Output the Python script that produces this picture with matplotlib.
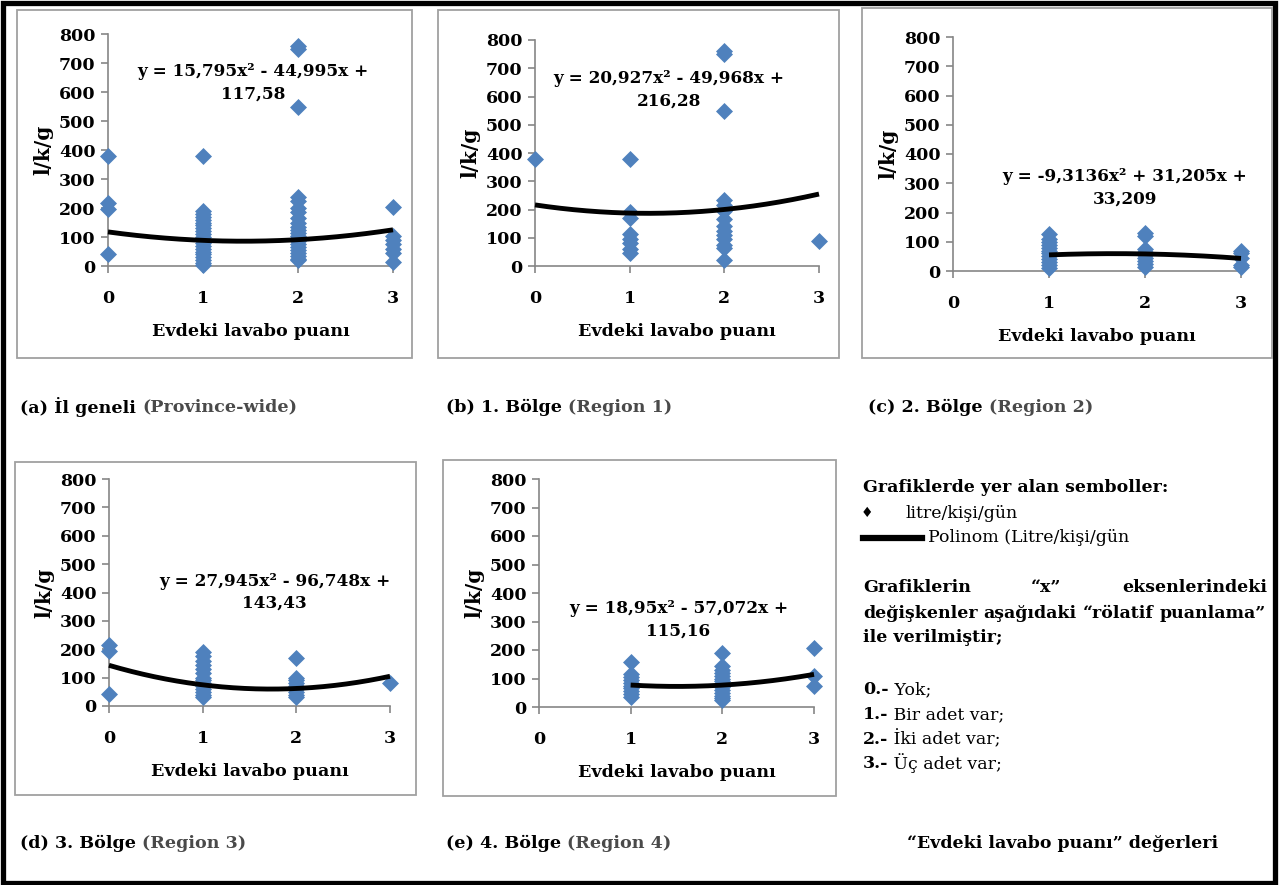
import numpy as np
import matplotlib
matplotlib.use("Agg")
import matplotlib.pyplot as plt
from matplotlib.lines import Line2D
from matplotlib.patches import Rectangle

W, H = 1279, 885
plt.rcParams['font.family'] = ['DejaVu Serif']

# ---------------- data ----------------
x_ticks = [0, 1, 2, 3]
y_ticks = [0, 100, 200, 300, 400, 500, 600, 700, 800]

a_x = [0]*4 + [1]*21 + [2]*22 + [3]*7
a_y = [380, 218, 195, 40,
       380, 190, 180, 170, 160, 150, 140, 130, 120, 110, 100, 90, 80, 70, 60, 50, 40, 30, 20, 10, 5,
       760, 750, 550, 238, 225, 200, 185, 165, 150, 135, 125, 115, 105, 95, 85, 75, 65, 55, 45, 35, 25, 20,
       205, 105, 90, 75, 60, 45, 15]
a_coef = [15.795, -44.995, 117.58]
a_range = [0, 3]

b_x = [0] + [1]*8 + [2]*14 + [3]
b_y = [380,
       380, 190, 170, 115, 95, 80, 60, 45,
       760, 750, 550, 235, 215, 195, 165, 140, 125, 110, 95, 75, 65, 20,
       90]
b_coef = [20.927, -49.968, 216.28]
b_range = [0, 3]

c_x = [1]*12 + [2]*9 + [3]*5
c_y = [125, 110, 100, 90, 80, 70, 60, 50, 40, 30, 20, 10,
       130, 120, 75, 65, 55, 45, 35, 25, 15,
       70, 60, 45, 20, 15]
c_coef = [-9.3136, 31.205, 33.209]
c_range = [1, 3]

d_x = [0]*3 + [1]*14 + [2]*9 + [3]
d_y = [215, 195, 42,
       190, 175, 160, 145, 130, 115, 100, 90, 80, 70, 60, 50, 40, 30,
       168, 100, 90, 80, 70, 60, 50, 40, 30,
       82]
d_coef = [27.945, -96.748, 143.43]
d_range = [0, 3]

e_x = [1]*10 + [2]*14 + [3]*3
e_y = [158, 115, 105, 95, 85, 75, 65, 55, 45, 35,
       190, 145, 130, 120, 110, 100, 90, 80, 70, 60, 50, 40, 30, 25,
       207, 110, 72]
e_coef = [18.95, -57.072, 115.16]
e_range = [1, 3]

equations = {
    'a': "y = 15,795x² - 44,995x +\n117,58",
    'b': "y = 20,927x² - 49,968x +\n216,28",
    'c': "y = -9,3136x² + 31,205x +\n33,209",
    'd': "y = 27,945x² - 96,748x +\n143,43",
    'e': "y = 18,95x² - 57,072x +\n115,16",
}
captions = {
    'a': ("(a) İl geneli ", "(Province-wide)"),
    'b': ("(b) 1. Bölge ", "(Region 1)"),
    'c': ("(c) 2. Bölge ", "(Region 2)"),
    'd': ("(d) 3. Bölge ", "(Region 3)"),
    'e': ("(e) 4. Bölge ", "(Region 4)"),
}
x_label = "Evdeki lavabo puanı"
y_label = "l/k/g"

# ---------------- layout (pixels) ----------------
panels = {
    'a': dict(x=a_x, y=a_y, coef=a_coef, rng=a_range, ax=(108, 393, 34, 266), frame=(17, 412, 10, 358), eq=(1.53, 631), cap=(20, 407)),
    'b': dict(x=b_x, y=b_y, coef=b_coef, rng=b_range, ax=(535, 819, 40, 266), frame=(438, 839, 10, 358), eq=(1.415, 623), cap=(446, 407)),
    'c': dict(x=c_x, y=c_y, coef=c_coef, rng=c_range, ax=(953, 1241, 37, 271), frame=(862, 1272, 8, 358), eq=(1.79, 284), cap=(868, 407)),
    'd': dict(x=d_x, y=d_y, coef=d_coef, rng=d_range, ax=(109, 390, 479, 706), frame=(15, 416, 462, 795), eq=(1.77, 401), cap=(20, 843)),
    'e': dict(x=e_x, y=e_y, coef=e_coef, rng=e_range, ax=(539, 814, 479, 707), frame=(443, 836, 460, 796), eq=(1.52, 305), cap=(446, 843)),
}

fig = plt.figure(figsize=(W/100, H/100), dpi=100)
fig.patch.set_facecolor('white')

def fx(x): return x / W
def fy(y): return 1 - y / H

# outer black border
fig.add_artist(Rectangle((fx(2.5), fy(882.5)), fx(1274.5-2.5), 880/H, transform=fig.transFigure,
                         fill=False, edgecolor='black', linewidth=3.8))

GRAY = '#868686'
BLUE = '#4F81BD'
TICKFS = 12.5
for key, p in panels.items():
    l, r, t, b = p['frame']
    fig.add_artist(Rectangle((fx(l), fy(b)), (r-l)/W, (b-t)/H, transform=fig.transFigure,
                             fill=False, edgecolor='#A0A0A0', linewidth=1.3))
    l, r, t, b = p['ax']
    ax = fig.add_axes([fx(l), fy(b), (r-l)/W, (b-t)/H])
    ax.set_xlim(0, 3)
    ax.set_ylim(0, 800)
    ax.set_facecolor('none')
    for s in ['top', 'right']:
        ax.spines[s].set_visible(False)
    for s in ['left', 'bottom']:
        ax.spines[s].set_color(GRAY)
        ax.spines[s].set_linewidth(1.2)
    ax.set_xticks(x_ticks)
    ax.set_yticks(y_ticks)
    ax.tick_params(direction='out', length=5, width=1.2, color=GRAY, labelsize=TICKFS, pad=4)
    ax.tick_params(axis='x', pad=12)
    for lab in ax.get_xticklabels() + ax.get_yticklabels():
        lab.set_fontweight('bold')
    ax.scatter(p['x'], p['y'], marker='D', s=75, color=BLUE, linewidths=0, zorder=3, clip_on=False)
    xx = np.linspace(p['rng'][0], p['rng'][1], 200)
    ax.plot(xx, np.polyval(p['coef'], xx), color='black', linewidth=3.5, zorder=4,
            solid_capstyle='butt', clip_on=False)
    ax.text(p['eq'][0], p['eq'][1], equations[key], ha='center', va='center',
            fontsize=12.2, fontweight='bold', linespacing=1.4, zorder=5)
    ax.set_xlabel(x_label, fontsize=12.6, fontweight='bold', labelpad=12)
    ax.set_ylabel(y_label, fontsize=14.5, fontweight='bold', labelpad=4)

fig.canvas.draw()
renderer = fig.canvas.get_renderer()

CFS = 12.6
for key, p in panels.items():
    c1, c2 = captions[key]
    x0, y0 = p['cap']
    t1 = fig.text(fx(x0), fy(y0), c1, fontsize=CFS, fontweight='bold', ha='left', va='center', color='black')
    w1 = t1.get_window_extent(renderer).width
    fig.text(fx(x0 + w1), fy(y0), c2, fontsize=CFS, fontweight='bold', ha='left', va='center', color='#4A4A4A')

LFS = 12.5
fig.text(fx(863), fy(488), "Grafiklerde yer alan semboller:", fontsize=LFS, fontweight='bold', va='center')
fig.text(fx(867), fy(513), "♦", fontsize=10, va='center', ha='center', family=['DejaVu Sans'])
fig.text(fx(905), fy(513), "litre/kişi/gün", fontsize=LFS, va='center')
fig.add_artist(Line2D([fx(863), fx(922)], [fy(538), fy(538)], color='black', linewidth=4.5,
                      transform=fig.transFigure))
fig.text(fx(928), fy(538), "Polinom (Litre/kişi/gün", fontsize=LFS, va='center')

def justify(words, y, left, right, **kw):
    ts = [fig.text(0, fy(y), w, va='center', **kw) for w in words]
    widths = [t.get_window_extent(renderer).width for t in ts]
    gap = (right - left - sum(widths)) / max(len(words) - 1, 1)
    x = left
    for t, w in zip(ts, widths):
        t.set_x(fx(x))
        x += w + gap

justify(["Grafiklerin", "“x”", "eksenlerindeki"], 588, 863, 1267, fontsize=LFS, fontweight='bold')
justify(["değişkenler", "aşağıdaki", "“rölatif", "puanlama”"], 613, 863, 1266, fontsize=LFS, fontweight='bold')
fig.text(fx(863), fy(638), "ile verilmiştir;", fontsize=LFS, fontweight='bold', va='center')

items = [("0.-", " Yok;"), ("1.-", " Bir adet var;"), ("2.-", " İki adet var;"), ("3.-", " Üç adet var;")]
for i, (a, b) in enumerate(items):
    y = 690 + i * 24.5
    t = fig.text(fx(863), fy(y), a, fontsize=LFS, fontweight='bold', va='center')
    w = t.get_window_extent(renderer).width
    fig.text(fx(863 + w), fy(y), b, fontsize=LFS, va='center')

fig.text(fx(1063), fy(843), "“Evdeki lavabo puanı” değerleri", fontsize=LFS, fontweight='bold',
         va='center', ha='center')

fig.savefig("out.png", dpi=100, facecolor='white')
